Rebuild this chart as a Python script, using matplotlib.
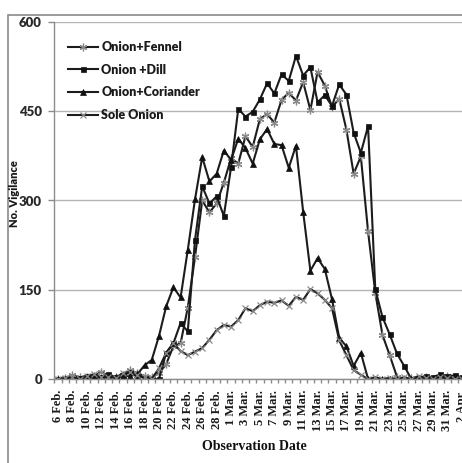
import matplotlib
matplotlib.use("Agg")
import matplotlib.pyplot as plt
from matplotlib.patches import Rectangle
import numpy as np
import pandas as pd

# Daily observation dates (leap year: 29 Feb included)
dates = pd.date_range("2012-02-06", "2012-04-02", freq="D")
categories = [f"{d.day} {d.strftime('%b')}." for d in dates]
tick_labels = categories[::2]

fennel = [0, 2, 6, 3, 4, 5, 12, 5, 3, 6, 15, 10, 5, 3, 10, 25, 55, 60, 120, 205,
          300, 280, 295, 330, 371, 362, 408, 390, 437, 445, 431, 469, 481, 468, 499,
          452, 516, 493, 457, 471, 419, 345, 374, 248, 145, 74, 40, 4, 0, 2, 0, 3,
          0, 2, 5, 0, 2]
dill = [0, 0, 0, 2, 5, 3, 4, 8, 3, 5, 12, 5, 2, 0, 0, 44, 60, 94, 80, 234,
        324, 295, 307, 274, 356, 454, 441, 449, 470, 497, 480, 512, 501, 543, 510,
        524, 465, 477, 459, 495, 478, 414, 380, 425, 151, 104, 75, 43, 22, 0, 2, 5,
        3, 8, 5, 6, 3]
coriander = [0, 0, 0, 0, 2, 3, 2, 4, 3, 5, 5, 8, 23, 32, 72, 122, 154, 137, 217, 302,
             373, 332, 345, 384, 368, 404, 388, 362, 403, 420, 395, 393, 355, 392, 281,
             182, 203, 185, 134, 69, 55, 22, 44, 0, 0, 0, 0, 0, 0, 0, 0, 0,
             0, 0, 0, 0, 0]
sole = [0, 2, 3, 0, 5, 8, 4, 3, 2, 10, 12, 6, 3, 0, 18, 44, 60, 47, 40, 46,
        52, 66, 82, 91, 88, 99, 119, 114, 124, 130, 128, 132, 123, 138, 133,
        151, 144, 133, 119, 65, 40, 15, 7, 0, 3, 0, 2, 0, 3, 0, 5, 2,
        0, 3, 2, 0, 0]

series = [
    ("Onion+Fennel", fennel, dict(marker=(6, 2, 0), ms=5.5, mec="#8a8a8a", mfc="#8a8a8a", mew=0.9)),
    ("Onion +Dill", dill, dict(marker="s", ms=3.6, mec="#111111", mfc="#111111", mew=0.5)),
    ("Onion+Coriander", coriander, dict(marker="^", ms=3.8, mec="#111111", mfc="#111111", mew=0.5)),
    ("Sole Onion", sole, dict(marker="x", ms=4.5, mec="#8a8a8a", mfc="#8a8a8a", mew=0.9)),
]

W, H = 462, 463
fig = plt.figure(figsize=(W / 100, H / 100), dpi=100)
fig.patch.set_facecolor("white")

ax_left, ax_right, ax_bottom, ax_top = 54.4, 465.4, 463 - 379, 463 - 22
ax = fig.add_axes([ax_left / W, ax_bottom / H, (ax_right - ax_left) / W, (ax_top - ax_bottom) / H])

x = np.arange(len(categories))
for name, vals, style in series:
    ax.plot(x, vals, color="#1c1c1c", lw=1.5, label=name, **style)

ax.set_xlim(-0.5, len(categories) - 0.5)
ax.set_ylim(0, 600)

ax.set_yticks([0, 150, 300, 450, 600])
ax.yaxis.grid(True, color="#b4b4b4", lw=1.0)
ax.set_axisbelow(True)
for s in ("top", "right"):
    ax.spines[s].set_visible(False)
for s in ("left", "bottom"):
    ax.spines[s].set_color("#8c8c8c")
    ax.spines[s].set_linewidth(1.0)

ax.tick_params(axis="y", length=4, width=1, color="#8c8c8c", pad=5,
               labelsize=9.5, labelcolor="#2a2a2a")
for lab in ax.get_yticklabels():
    lab.set_fontfamily("Lato")
    lab.set_fontweight("heavy")

ax.set_xticks(x[::2])
ax.set_xticklabels(tick_labels, rotation=90, fontfamily="Liberation Serif",
                   fontweight="bold", fontsize=9, color="#1a1a1a")
ax.set_xticks(np.arange(-0.5, len(categories), 1), minor=True)
ax.tick_params(axis="x", which="major", length=0, pad=8)
ax.tick_params(axis="x", which="minor", length=3, width=1, color="#8c8c8c")

leg = ax.legend(loc="upper left", bbox_to_anchor=(68 / W, (H - 41) / H),
                bbox_transform=fig.transFigure, frameon=False, borderpad=0,
                borderaxespad=0, handlelength=2.4, handletextpad=0.25,
                labelspacing=0.86, prop=dict(family="Lato", weight="heavy", size=9))
for t in leg.get_texts():
    t.set_color("#1a1a1a")

fig.text(15 / W, (H - 194) / H, "No. Vigilance", rotation=90, ha="center", va="center",
         fontfamily="Lato", fontweight="heavy", fontsize=8, color="#1a1a1a")
fig.text(254 / W, (H - 447) / H, "Observation Date", ha="center", va="center",
         fontfamily="Liberation Serif", fontweight="bold", fontsize=10, color="#111111")

# Outer chart border
fig.patches.append(Rectangle((8 / W, -0.05), 1.2, (H - 15) / H + 0.05,
                             transform=fig.transFigure, fill=False,
                             ec="#8a8a8a", lw=1.2))

fig.savefig("out.png", dpi=100)
